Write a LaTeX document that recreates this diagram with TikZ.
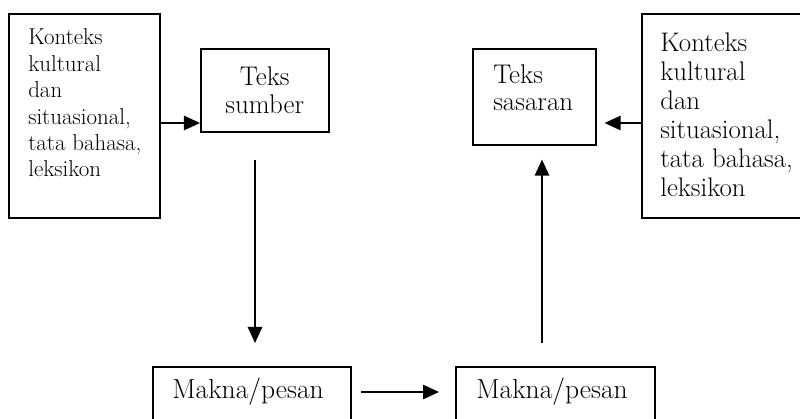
\documentclass[tikz,border=0pt]{standalone}
\usetikzlibrary{arrows.meta,positioning}
\tikzset{
  kotak/.style={draw, line width=1.1pt, inner sep=0pt, anchor=north west},
  teks/.style={align=left, inner sep=0pt, anchor=west},
  panah/.style={line width=1.1pt, -{Triangle[length=0.4cm,width=0.36cm]}}
}

\begin{document}
\begin{tikzpicture}[x=0.025cm, y=-0.025cm]
  \useasboundingbox (0,0) rectangle (800,419);
  \clip (0,0) rectangle (800,419);

  % konteks kiri
  \node[kotak, minimum width=3.775cm, minimum height=5.1cm] (konteks1) at (8,13) {};
  \node[teks, font=\fontsize{16.3}{18.8}\selectfont] (konteks1teks) at (28,103)
    {Konteks\\kultural\\dan\\situasional,\\tata bahasa,\\leksikon};

  % teks sumber
  \node[kotak, minimum width=3.2cm, minimum height=2.075cm, align=center,
        font=\fontsize{19.2}{19.4}\selectfont] (sumber) at (200,48) {Teks\\sumber};

  % teks sasaran
  \node[kotak, minimum width=3.075cm, minimum height=2.4cm] (sasaran) at (472,48) {};
  \node[teks, font=\fontsize{19.2}{19.4}\selectfont] (sasaranteks) at (493,88) {Teks\\sasaran};

  % konteks kanan
  \node[kotak, minimum width=4.725cm, minimum height=5.1cm] (konteks2) at (641,13) {};
  \node[teks, font=\fontsize{19.1}{20.7}\selectfont] (konteks2teks) at (660,115)
    {Konteks\\kultural\\dan\\situasional,\\tata bahasa,\\leksikon};

  % makna/pesan
  \node[kotak, minimum width=4.95cm, minimum height=1.5cm] (makna1) at (152,366) {};
  \node[teks, font=\fontsize{19.6}{19.6}\selectfont] (makna1teks) at (172,392) {Makna/pesan};
  \node[kotak, minimum width=4.975cm, minimum height=1.5cm] (makna2) at (455,366) {};
  \node[teks, font=\fontsize{19.6}{19.6}\selectfont] (makna2teks) at (476,392) {Makna/pesan};

  % panah
  \coordinate (atas) at (0,123);
  \coordinate (bawah) at (0,392);
  \coordinate (turun) at (255,0);
  \coordinate (naik) at (542,0);
  \draw[panah] (konteks1.east |- atas) -- (sumber.west |- atas);
  \draw[panah, shorten >=0.2cm] (konteks2.west |- atas) -- (sasaran.east |- atas);
  \draw[panah, shorten <=0.675cm, shorten >=0.575cm] (sumber.south -| turun) -- (makna1.north -| turun);
  \draw[panah, shorten <=0.225cm, shorten >=0.4cm] (makna1.east |- bawah) -- (makna2.west |- bawah);
  \draw[panah, shorten <=0.575cm, shorten >=0.35cm] (makna2.north -| naik) -- (sasaran.south -| naik);
\end{tikzpicture}
\end{document}
